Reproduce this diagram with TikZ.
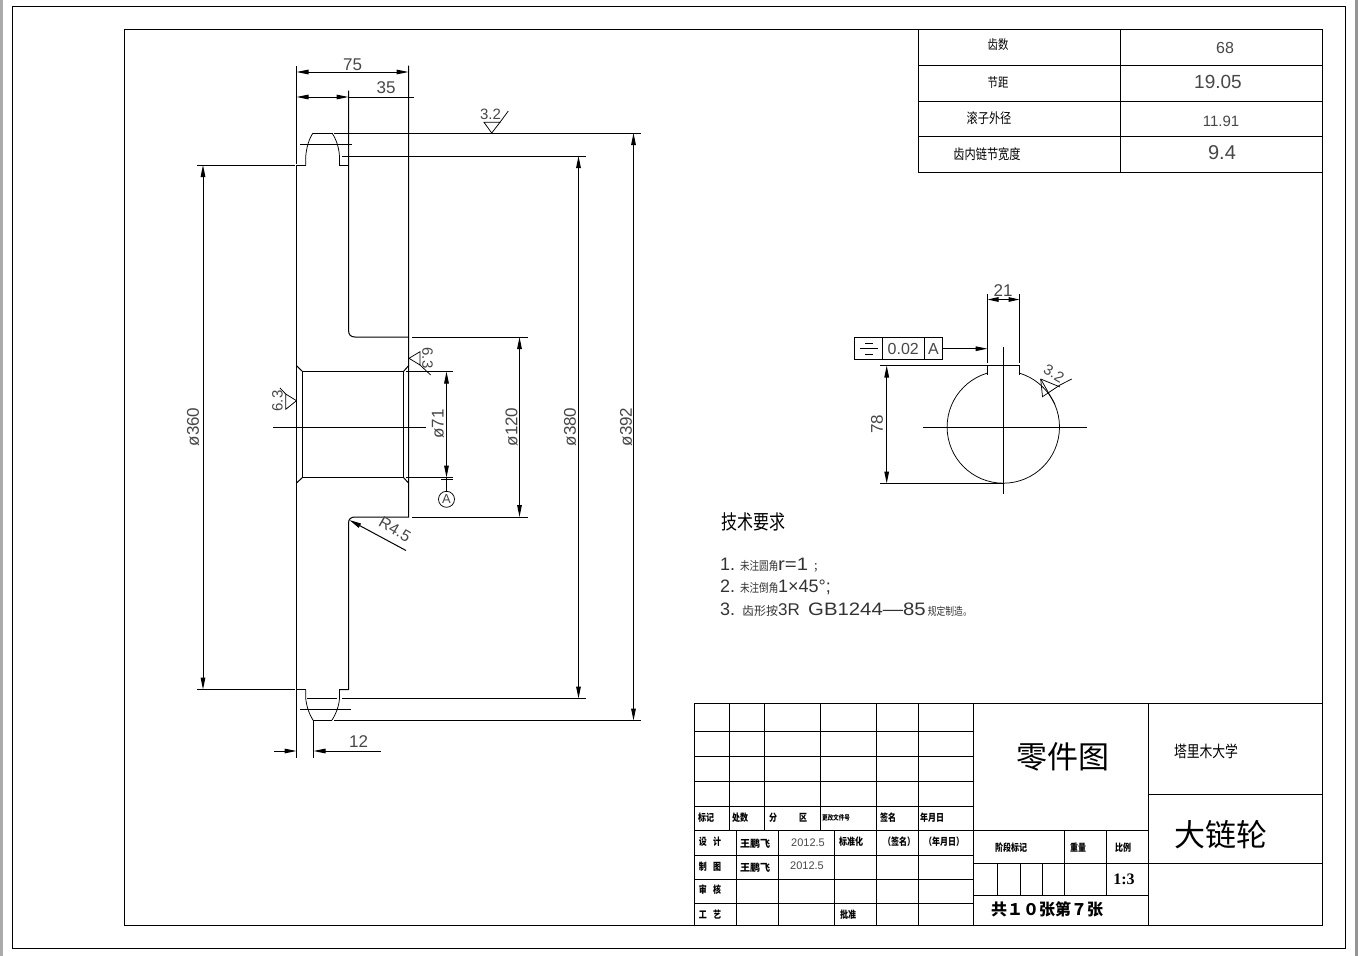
\documentclass[tikz,border=0pt]{standalone}
\usepackage{fontspec}
\usepackage{graphicx}
\usepackage{tikz}
\usetikzlibrary{arrows.meta}
\setmainfont{Liberation Sans}
\newfontfamily\cjk{Noto Sans CJK SC}
\newfontfamily\numfont{Liberation Serif}
\newfontfamily\latin{Liberation Sans}
\newcommand{\fs}[1]{\fontsize{#1}{#1}\selectfont}
\newcommand{\nr}[1]{\scalebox{0.8}[1]{#1}}
\newcommand{\wdr}[1]{\scalebox{1.13}[1]{#1}}
\tikzset{
  ln/.style={line width=1pt,line cap=rect},
  frame/.style={line width=1.05pt},
  dim/.style={line width=1pt,{Stealth[length=12pt,width=4.6pt,inset=0pt]}-{Stealth[length=12pt,width=4.6pt,inset=0pt]}},
  dimend/.style={line width=1pt,-{Stealth[length=12pt,width=4.6pt,inset=0pt]}},
  thinline/.style={line width=0.75pt},
  num/.style={inner sep=0pt,text=black!72,font=\fs{#1}},
  num/.default=16,
  hz/.style={inner sep=0pt,font=\cjk\fs{#1}},
  hz/.default=11,
  hzb/.style={inner sep=0pt,font=\cjk\bfseries\fs{#1}},
  hzb/.default=10
}
\begin{document}
\begin{tikzpicture}[x=1pt,y=-1pt]
  \useasboundingbox (0,0) rectangle (1358,956);
  \fill[black!33] (0,0) rectangle (2.5,956);
  \fill[black!42] (1355,0) rectangle (1358,956);
  \draw[frame] (12.5,6.5) rectangle (1345.5,948.5);
  \draw[frame] (124.5,29.5) rectangle (1322.5,925.5);

  \draw[frame] (918.5,29.5) -- (918.5,172.5) -- (1322.5,172.5);
  \draw[ln] (1120.5,29.5) -- (1120.5,172.5);
  \foreach \y in {65.5,101.5,136.5}
    \draw[ln] (918.5,\y) -- (1322.5,\y);
  \node[hz=13] (ptA) at (998,45) {\nr{齿数}};
  \node[hz=13] (ptB) at (998,83) {\nr{节距}};
  \node[hz=14] (ptC) at (989,118) {\nr{滚子外径}};
  \node[hz=14] (ptD) at (987,154) {\nr{齿内链节宽度}};
  \node[num=16] (valA) at (1225,48) {68};
  \node[num=19] (valB) at (1218,82) {19.05};
  \node[num=15] (valC) at (1221,121) {11.91};
  \node[num=20] (valD) at (1222,153) {9.4};

  \draw[ln] (296.5,66) -- (296.5,163);
  \draw[ln] (408.5,66) -- (408.5,517) -- (355,517) .. controls (351,517) and (348.5,519) .. (348.5,523) -- (348.5,689.5) -- (339.5,689.5);
  \draw[ln] (348.5,91) -- (348.5,330) .. controls (348.5,335) and (351,337) .. (355,337) -- (408.5,337);
  \draw[ln] (296.5,165) -- (296.5,689.5) -- (305.7,689.5);
  \draw[ln] (296.5,165) -- (305.7,165);
  \draw[ln] (339.5,165) -- (348.5,165);
  \draw[thinline] (305.7,165) -- (305.7,156.7) .. controls (306.5,147) and (309,139) .. (313,133);
  \draw[ln] (313,133) -- (332,133);
  \draw[thinline] (332,133) .. controls (336,139) and (339,147) .. (339.5,156.7) -- (339.5,165);
  \draw[thinline] (305.7,689.5) -- (305.7,698.3) .. controls (306.5,706) and (309,714) .. (313.3,720.5);
  \draw[ln] (313.3,720.5) -- (331.7,720.5);
  \draw[thinline] (331.7,720.5) .. controls (336,714) and (339,706) .. (339.5,698.3) -- (339.5,689.5);
  \draw[ln] (300,144) -- (351,144);
  \draw[ln] (300,709.5) -- (350.7,709.5);
  \draw[ln] (307,698.5) -- (336,698.5);

  \draw[ln] (302.5,371.5) rectangle (403.5,477.5);
  \draw[ln] (296.5,365.7) -- (302.5,371.5);
  \draw[ln] (296.5,483) -- (302.5,477.5);
  \draw[ln] (408.5,365.7) -- (403.5,371.5);
  \draw[ln] (408.5,483) -- (403.5,477.5);
  \draw[ln] (273,427.5) -- (425,427.5);

  \draw[ln] (334,133) -- (640,133);
  \draw[ln] (342,156) -- (585,156);
  \draw[ln] (197,165) -- (294,165);
  \draw[ln] (197,689.5) -- (294,689.5);
  \draw[ln] (334,720.5) -- (640,720.5);
  \draw[ln] (342,698.5) -- (585,698.5);
  \draw[ln] (412,337) -- (527,337);
  \draw[ln] (412,517) -- (527,517);
  \draw[ln] (406,371.5) -- (452,371.5);
  \draw[ln] (406,477.5) -- (452,477.5);

  \draw[dim] (296.5,72) -- node[num=17,above=1pt] (lblA) {75} (408.5,72);
  \draw[dim] (296.5,97) -- (348.5,97);
  \draw[ln] (348.5,97) -- (413,97);
  \node[num=17] (lblB) at (386,88) {35};
  \draw[dim] (203,165) -- (203,689.5);
  \node[num=17,rotate=90] (lblC) at (193,427) {ø360};
  \draw[dim] (519.5,337) -- (519.5,517);
  \node[num=17,rotate=90] (lblD) at (511.7,427) {ø120};
  \draw[dim] (578.5,156) -- (578.5,698.5);
  \node[num=17,rotate=90] (lblE) at (570,427) {ø380};
  \draw[dim] (633.5,133) -- (633.5,720.5);
  \node[num=17,rotate=90] (lblF) at (626,427) {ø392};
  \draw[dim] (446.5,371.5) -- (446.5,477.5);
  \node[num=17,rotate=90] (lblG) at (438,424) {ø71};

  \draw[ln] (441.7,479.5) -- (452.7,479.5);
  \draw[ln] (446.5,477.5) -- (446.5,491.3);
  \draw[thinline] (446.5,499.3) circle (8);
  \node[num=13] (datumA) at (446.5,499.5) {A};

  \draw[ln] (296.5,690.7) -- (296.5,757.3);
  \draw[ln] (313.5,720.5) -- (313.5,757.3);
  \draw[dimend] (274,751) -- (296.5,751);
  \draw[dimend] (380.7,751) -- (313.5,751);
  \node[num=17] (lblH) at (358.7,742) {12};

  \draw[dimend] (406,550.5) -- (349.3,520);
  \node[num=16,rotate=-30] (lblI) at (395,529.5) {R4.5};

  \draw[thinline] (484,122.3) -- (491.7,133) -- (500,122.3) -- cycle;
  \draw[thinline] (500,122.3) -- (508.3,111);
  \node[num=15] (surfA) at (490.5,114.5) {3.2};
  \draw[thinline] (285.7,394) -- (296.5,400.7) -- (285.7,409.3) -- cycle;
  \draw[thinline] (285.7,394) -- (280,388);
  \node[num=15,rotate=90] (surfB) at (277.5,401) {6.3};
  \draw[thinline] (420,351.7) -- (409,358.3) -- (420,365) -- cycle;
  \draw[thinline] (420,365) -- (430.7,375);
  \node[num=15,rotate=-90] (surfC) at (427.5,358) {6.3};

  \draw[thinline] (1003.3,427) circle (56.2);
  \fill[white] (988,366) rectangle (1018.6,378);
  \draw[ln] (987.5,374.3) -- (987.5,365.5) -- (1019.5,365.5) -- (1019.5,374.3);
  \draw[ln] (987.5,294) -- (987.5,362.7);
  \draw[ln] (1019.5,294) -- (1019.5,362.7);
  \draw[line width=1pt,{Stealth[length=11pt,width=4.6pt,inset=0pt]}-{Stealth[length=11pt,width=4.6pt,inset=0pt]}] (987.5,299.5) -- (1019.5,299.5);
  \node[num=17] (lblJ) at (1003,291) {21};
  \draw[ln] (1003.5,347.3) -- (1003.5,493.3);
  \draw[ln] (923.3,427) -- (1086.7,427);
  \draw[ln] (880.7,365.5) -- (987.5,365.5);
  \draw[ln] (880.7,483.5) -- (1003.5,483.5);
  \draw[dim] (886.7,365.5) -- (886.7,483.5);
  \node[num=17,rotate=90] (lblK) at (877,424) {78};

  \draw[ln] (854.5,337.5) rectangle (942.5,359.5);
  \draw[ln] (882.5,337.5) -- (882.5,359.5);
  \draw[ln] (924.5,337.5) -- (924.5,359.5);
  \draw[dimend] (942.5,348.7) -- (987.5,348.7);
  \draw[thinline] (860,348.7) -- (878.3,348.7);
  \draw[thinline] (865,343.3) -- (873,343.3);
  \draw[thinline] (865,354) -- (873,354);
  \node[num=16] (tolA) at (903.3,348.5) {0.02};
  \node[num=16] (tolB) at (933.5,348.5) {A};

  \draw[thinline] (1040.7,379) -- (1042.5,396.7) -- (1060,385) -- (1071.7,379);
  \draw[thinline] (1040.7,379) -- (1060,387);
  \draw[thinline] (1040.7,379) -- (1055,404.3);
  \node[num=15,rotate=-30] (surfD) at (1054,373.5) {3.2};

  \node[hz=20] (noteT) at (753,522) {\nr{技术要求}};
  \node[anchor=west,inner sep=0pt,text=black!80,font=\latin\fs{18}] (noteA) at (720,565) {\makebox[20pt][l]{1.}\makebox[38pt]{\nr{\cjk\fs{12}未注圆角}}\wdr{r=1}\hspace{5pt}{\cjk\fs{11}；}};
  \node[anchor=west,inner sep=0pt,text=black!80,font=\latin\fs{18}] (noteB) at (720,587.5) {\makebox[20pt][l]{2.}\makebox[38pt]{\nr{\cjk\fs{12}未注倒角}}1×45°;};
  \node[anchor=west,inner sep=0pt,text=black!80,font=\latin\fs{18}] (noteC) at (720,610) {\makebox[22pt][l]{3.}\makebox[36pt]{\cjk\fs{12}齿形按}\makebox[30pt][l]{\fs{17}3R}\wdr{GB1244—85}\hspace{2pt}\nr{\cjk\fs{11}规定制造。}};

  \draw[frame] (694.5,703.5) rectangle (1322.5,925.5);
  \draw[ln] (973.5,703.5) -- (973.5,925.5);
  \draw[ln] (1148.5,703.5) -- (1148.5,925.5);
  \foreach \y in {731.5,756.5,781.5,806.5,830.5,855.5,879.5,903.5}
    \draw[ln] (694.5,\y) -- (973.5,\y);
  \foreach \x in {729.5,764.5,820.5}
    \draw[ln] (\x,703.5) -- (\x,830.5);
  \foreach \x in {736.5,778.5,834.5}
    \draw[ln] (\x,830.5) -- (\x,925.5);
  \foreach \x in {876.5,918.5}
    \draw[ln] (\x,703.5) -- (\x,925.5);
  \foreach \y in {830.5,863.5,895.5}
    \draw[ln] (973.5,\y) -- (1148.5,\y);
  \foreach \x in {1064.5,1106.5}
    \draw[ln] (\x,830.5) -- (\x,895.5);
  \foreach \x in {997.5,1020.5,1042.5}
    \draw[ln] (\x,863.5) -- (\x,895.5);
  \draw[ln] (1148.5,794.5) -- (1322.5,794.5);
  \draw[ln] (1148.5,863.5) -- (1322.5,863.5);

  \node[hzb] (hdA) at (706,818) {\nr{标记}};
  \node[hzb] (hdB) at (740,818) {\nr{处数}};
  \node[hzb] (hdC) at (773,818) {\nr{分}};
  \node[hzb] (hdD) at (803,818) {\nr{区}};
  \node[hzb=7] (hdE) at (836,818) {\nr{更改文件号}};
  \node[hzb] (hdF) at (888,818) {\nr{签名}};
  \node[hzb] (hdG) at (932,818) {\nr{年月日}};
  \node[hzb] (rwA) at (710,842) {\nr{设\hspace{8pt}计}};
  \node[hzb] (rwB) at (755,844) {王鹏飞};
  \node[num=11] (rwC) at (808,843) {2012.5};
  \node[hzb] (rwD) at (851,842) {\nr{标准化}};
  \node[hzb] (rwE) at (899,842) {\nr{（签名）}};
  \node[hzb] (rwF) at (944,842) {\nr{（年月日）}};
  \node[hzb] (rwG) at (710,867) {\nr{制\hspace{8pt}图}};
  \node[hzb] (rwH) at (755,868) {王鹏飞};
  \node[num=11] (rwI) at (807,866) {2012.5};
  \node[hzb] (rwJ) at (710,890) {\nr{审\hspace{8pt}核}};
  \node[hzb] (rwK) at (710,915) {\nr{工\hspace{8pt}艺}};
  \node[hzb] (rwL) at (848,915) {\nr{批准}};
  \node[hz=31] (ttlA) at (1063,757) {零件图};
  \node[hz=16] (ttlB) at (1206,751) {\nr{塔里木大学}};
  \node[hz=31] (ttlC) at (1221,835) {大链轮};
  \node[hzb] (ttlD) at (1011,848) {\nr{阶段标记}};
  \node[hzb] (ttlE) at (1078,848) {\nr{重量}};
  \node[hzb] (ttlF) at (1123,848) {\nr{比例}};
  \node[inner sep=0pt,font=\numfont\bfseries\fs{16}] (ttlG) at (1124,879.7) {1:3};
  \node[hzb=16] (ttlH) at (1047,909) {共１０张第７张};
\end{tikzpicture}
\end{document}
